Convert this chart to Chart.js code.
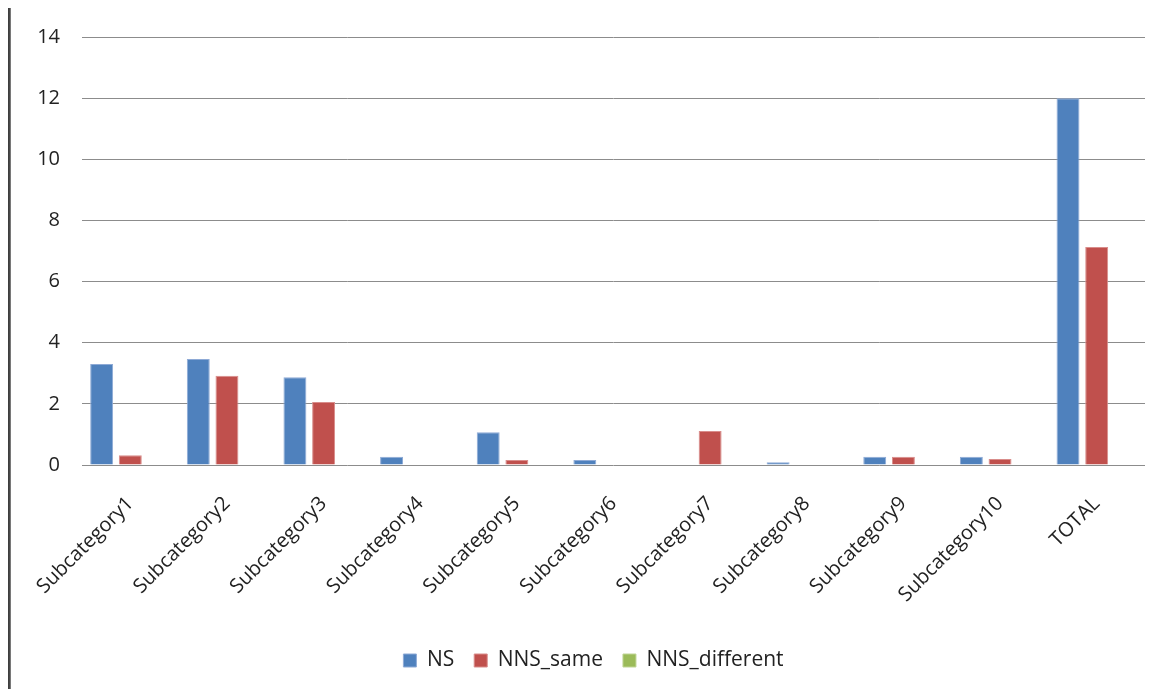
<!DOCTYPE html>
<html>
<head>
<meta charset="utf-8">
<script src="https://cdn.jsdelivr.net/npm/chart.js@4.4.1/dist/chart.umd.min.js"></script>
<style>
  html, body { margin: 0; padding: 0; background: #ffffff; }
  #wrap { position: relative; width: 1167px; height: 689px; overflow: hidden; }
  #frame { position: absolute; left: 8px; top: 8px; width: 3px; height: 690px;
           background: linear-gradient(to right, #3a3a3a 0%, #4a4a4a 60%, #9a9a9a 100%); }
  canvas { position: absolute; left: 0; top: 0; }
</style>
</head>
<body>
<div id="wrap">
  <canvas id="chart" width="1167" height="689"></canvas>
  <div id="frame"></div>
</div>
<script>
// Categories and series
const categories = ['Subcategory1', 'Subcategory2', 'Subcategory3', 'Subcategory4', 'Subcategory5',
  'Subcategory6', 'Subcategory7', 'Subcategory8', 'Subcategory9', 'Subcategory10', 'TOTAL'];
const nsValues           = [3.3, 3.47, 2.87, 0.27, 1.07, 0.16, 0, 0.09, 0.27, 0.27, 12.0];
const nnsSameValues      = [0.32, 2.92, 2.06, 0, 0.16, 0, 1.11, 0, 0.27, 0.2, 7.13];
const nnsDifferentValues = [0, 0, 0, 0, 0, 0, 0, 0, 0, 0, 0];
const yTicks = [0, 2, 4, 6, 8, 10, 12, 14];

const FONT = '"Open Sans", "Noto Sans", sans-serif';
const TEXT = '#222222';

Chart.defaults.font.family = FONT;
Chart.defaults.color = TEXT;

const barCommon = { borderWidth: 1, categoryPercentage: 0.89, barPercentage: 0.8 };

// Nudge the legend a little to the right of the canvas centre
const legendShift = {
  id: 'legendShift',
  afterLayout(chart) {
    chart.legend.left += 21;
    chart.legend.right += 21;
  }
};

new Chart(document.getElementById('chart'), {
  type: 'bar',
  data: {
    labels: categories,
    datasets: [
      Object.assign({ label: 'NS', data: nsValues, backgroundColor: '#4F81BD', borderColor: '#8eaad6' }, barCommon),
      Object.assign({ label: 'NNS_same', data: nnsSameValues, backgroundColor: '#C0504D', borderColor: '#d98d8b' }, barCommon),
      Object.assign({ label: 'NNS_different', data: nnsDifferentValues, backgroundColor: '#9BBB59', borderColor: '#c0d596' }, barCommon)
    ]
  },
  plugins: [legendShift],
  options: {
    responsive: false,
    animation: false,
    devicePixelRatio: 1,
    layout: { padding: { top: 37, right: 22, left: 0, bottom: 8 } },
    plugins: {
      tooltip: { enabled: false },
      legend: {
        position: 'bottom',
        labels: {
          font: { size: 21, family: FONT },
          color: TEXT,
          boxWidth: 13,
          boxHeight: 13,
          padding: 20
        }
      }
    },
    scales: {
      x: {
        grid: { display: false, drawTicks: false },
        border: { display: false },
        ticks: {
          font: { size: 20, family: FONT },
          color: TEXT,
          minRotation: 45,
          maxRotation: 45,
          padding: 27,
          autoSkip: false
        },
        afterFit: (scale) => { scale.height = 165; }
      },
      y: {
        min: 0,
        max: 14,
        afterBuildTicks: (scale) => { scale.ticks = yTicks.map(v => ({ value: v })); },
        grid: { color: '#8c8c8c', lineWidth: 1, drawTicks: false },
        border: { display: false },
        ticks: {
          font: { size: 20, family: FONT },
          color: TEXT,
          padding: 22
        },
        afterFit: (scale) => {
          scale.width = 82;
          scale.paddingTop = 0;
          scale.paddingBottom = 0;
        }
      }
    }
  }
});
</script>
</body>
</html>
